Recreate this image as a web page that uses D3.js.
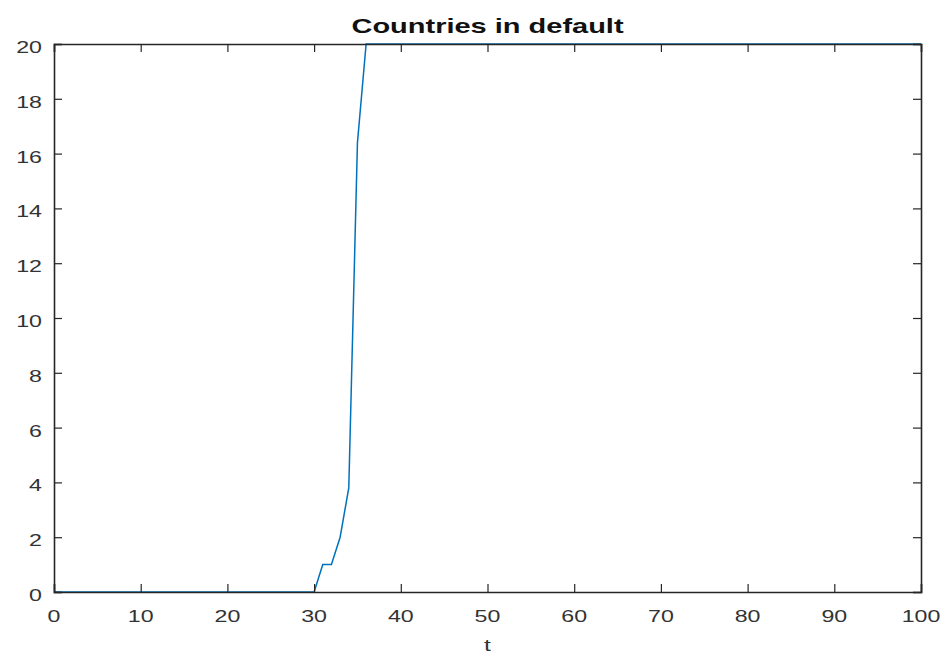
<!DOCTYPE html>
<html><head><meta charset="utf-8">
<script src="https://cdn.jsdelivr.net/npm/d3@7/dist/d3.min.js"></script>
<style>body{margin:0;background:#fff}</style>
</head><body>
<svg id="chart" width="946" height="660"></svg>
<script>
const title = "Countries in default";
const xLabel = "t";
const tValues = [0,1,2,3,4,5,6,7,8,9,10,11,12,13,14,15,16,17,18,19,20,21,22,23,24,25,26,27,28,29,30,
  31,32,33,34,35,36,37,38,39,40,41,42,43,44,45,46,47,48,49,50,51,52,53,54,55,56,57,58,59,60,
  61,62,63,64,65,66,67,68,69,70,71,72,73,74,75,76,77,78,79,80,81,82,83,84,85,86,87,88,89,90,
  91,92,93,94,95,96,97,98,99,100];
const defaults = [0,0,0,0,0,0,0,0,0,0,0,0,0,0,0,0,0,0,0,0,0,0,0,0,0,0,0,0,0,0,0,
  1,1,2,3.8,16.4,20,20,20,20,20,20,20,20,20,20,20,20,20,20,20,20,20,20,20,20,20,20,20,20,20,
  20,20,20,20,20,20,20,20,20,20,20,20,20,20,20,20,20,20,20,20,20,20,20,20,20,20,20,20,20,20,
  20,20,20,20,20,20,20,20,20,20];
const xTicks = [0,10,20,30,40,50,60,70,80,90,100];
const yTicks = [0,2,4,6,8,10,12,14,16,18,20];

const svg = d3.select("#chart");
const L = 54, R = 921, T = 44, B = 592;
const SX = 1.45; // horizontal stretch of the reference text
const axisColor = "#262626";
const x = d3.scaleLinear().domain([0,100]).range([L,R]);
const y = d3.scaleLinear().domain([0,20]).range([B,T]);

// data line
const line = d3.line().x((d,i)=>x(tValues[i])).y(d=>y(d));
svg.append("path").datum(defaults).attr("d",line)
  .attr("fill","none").attr("stroke","#0072BD").attr("stroke-width",1.5);

// axes (ticks inward on all 4 sides)
const tl = 8;
const gB = svg.append("g").attr("transform",`translate(0,${B})`)
  .call(d3.axisBottom(x).tickValues(xTicks).tickSize(-tl).tickFormat(""));
const gT = svg.append("g").attr("transform",`translate(0,${T})`)
  .call(d3.axisTop(x).tickValues(xTicks).tickSize(-tl).tickFormat(""));
const gL = svg.append("g").attr("transform",`translate(${L},0)`)
  .call(d3.axisLeft(y).tickValues(yTicks).tickSize(-tl).tickFormat(""));
const gR = svg.append("g").attr("transform",`translate(${R},0)`)
  .call(d3.axisRight(y).tickValues(yTicks).tickSize(-tl).tickFormat(""));
[gB,gT,gL,gR].forEach(g=>{
  g.selectAll("path.domain").attr("stroke",axisColor).attr("stroke-width",1.6);
  g.selectAll(".tick line").attr("stroke",axisColor).attr("stroke-width",1.2);
});

const font = "'Liberation Sans', Arial, Helvetica, sans-serif";
// x tick labels
svg.append("g").selectAll("text").data(xTicks).join("text")
  .attr("transform",d=>`translate(${x(d)},${622}) scale(${SX},1)`)
  .attr("text-anchor","middle").attr("font-family",font).attr("font-size",16)
  .attr("fill","#333").text(d=>d);
// y tick labels
svg.append("g").selectAll("text").data(yTicks).join("text")
  .attr("transform",d=>`translate(${42},${y(d)+9}) scale(${SX},1)`)
  .attr("text-anchor","end").attr("font-family",font).attr("font-size",16)
  .attr("fill","#333").text(d=>d);
// x label
svg.append("text").attr("transform",`translate(${(L+R)/2},${651}) scale(${SX},1)`)
  .attr("text-anchor","middle").attr("font-family",font).attr("font-size",17)
  .attr("fill","#333").text(xLabel);
// title
svg.append("text").attr("transform",`translate(${(L+R)/2},${33}) scale(${SX},1)`)
  .attr("text-anchor","middle").attr("font-family",font).attr("font-size",20)
  .attr("font-weight","bold").attr("fill","#111").text(title);
</script>
</body></html>
